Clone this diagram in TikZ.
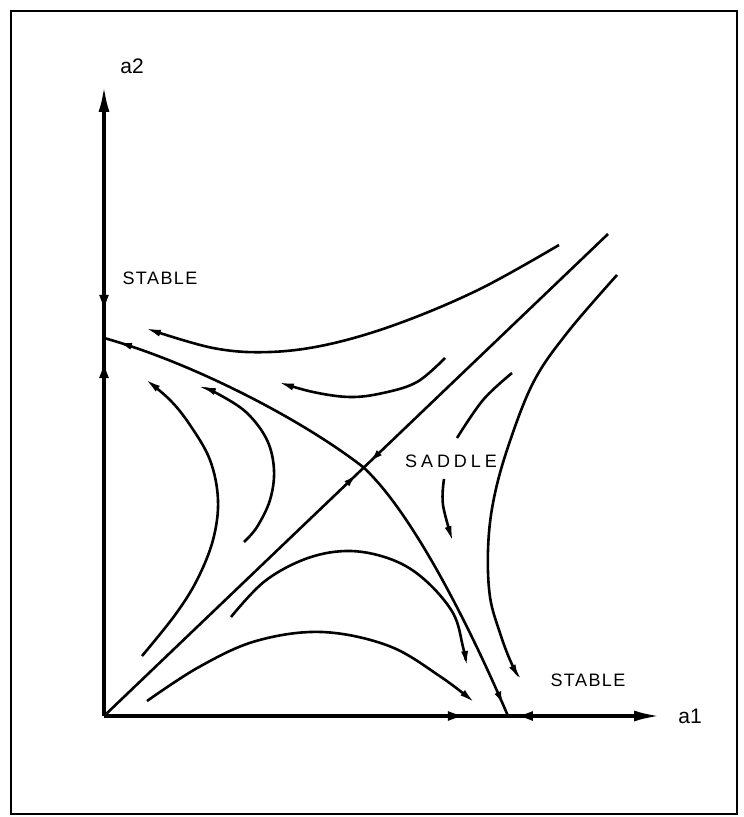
\documentclass[tikz,border=0pt]{standalone}
\usepackage{fontspec}
\setmainfont{Liberation Sans}
\usetikzlibrary{arrows.meta,decorations.markings,positioning}

\begin{document}
\begin{tikzpicture}[
    x=0.5pt, y=-0.5pt,
    frame/.style={draw=black, line width=1pt},
    axis/.style={line width=1.7pt, -{Latex[length=13pt, width=5.5pt]}},
    flow/.style={line width=1.3pt, -{Latex[length=8pt, width=3.5pt]}},
    trail/.style={line width=1.3pt},
    tipfwd/.style={postaction={decorate, decoration={markings,
        mark=at position #1 with {\arrow{Latex[length=7pt, width=3.5pt]}}}}},
    tipback/.style={postaction={decorate, decoration={markings,
        mark=at position #1 with {\arrowreversed{Latex[length=7pt, width=3.5pt]}}}}},
    axisfwd/.style={postaction={decorate, decoration={markings,
        mark=at position #1 with {\arrow{Latex[length=9pt, width=5pt]}}}}},
    axisback/.style={postaction={decorate, decoration={markings,
        mark=at position #1 with {\arrowreversed{Latex[length=9pt, width=5pt]}}}}},
    statelabel/.style={font=\fontsize{9}{10}\selectfont, inner sep=0pt},
    axislabel/.style={font=\fontsize{10.5}{11}\selectfont, inner sep=0pt},
]
\useasboundingbox (0,0) rectangle (743,817);

% Frame
\draw[frame] (11,11) rectangle (737,814);

% Fixed points
\coordinate (O) at (104,716);
\coordinate (yend) at (104,86);
\coordinate (xend) at (660,716);
\coordinate (S1) at (104,338);
\coordinate (S2) at (508,716);
\coordinate (saddle) at (363,467);
\coordinate (diagend) at (608,234);

% Axes
\draw[axis, axisfwd=0.565, axisback=0.64] (O) -- (yend);
\draw[axis, axisfwd=0.651, axisback=0.739] (O) -- (xend);
\node[axislabel, above right=6pt and 8pt of yend] (a2) {a2};
\node[axislabel, right=9pt of xend] (a1) {a1};

% Separatrices
\draw[trail, tipfwd=0.502, tipback=0.526] (O) -- (diagend);
\draw[trail, tipback=0.025, tipfwd=0.98] (S1) .. controls (190,362) and (300,418) .. (saddle)
    .. controls (410,510) and (466,618) .. (S2);

% Upper flows
\draw[flow] plot[smooth, tension=0.6] coordinates {
    (559,245) (480,289) (400,323) (330,344) (270,352) (213,348) (145,328)};
\draw[flow] plot[smooth, tension=0.6] coordinates {
    (445,358) (417,382) (383,393) (350,397) (313,392) (278,382)};

% Left flows
\draw[flow] plot[smooth, tension=0.6] coordinates {
    (142,656) (175,615) (197,580) (213,540) (218,500) (210,460) (190,425) (170,400) (145,379)};
\draw[flow] plot[smooth, tension=0.6] coordinates {
    (244,542) (257,527) (270,500) (274,470) (267,440) (247,413) (220,395) (200,386)};

% Right flows
\draw[flow] plot[smooth, tension=0.6] coordinates {
    (617,275) (567,333) (533,383) (507,450) (493,503) (488,550) (490,597) (500,633) (510,660) (520,680)};
\draw[trail] plot[smooth, tension=0.6] coordinates {(512,373) (483,400) (457,438)};
\draw[flow] plot[smooth, tension=0.6] coordinates {(444,479) (443,505) (453,542)};

% Lower flows
\draw[flow] plot[smooth, tension=0.6] coordinates {
    (231,617) (265,581) (308,558) (351,551) (393,560) (425,580) (453,613) (463,647) (467,667)};
\draw[flow] plot[smooth, tension=0.6] coordinates {
    (147,701) (199,667) (256,641) (322,632) (389,646) (441,677) (475,703)};

% Labels
\node[statelabel] at (160,278) (stabletop) {\addfontfeatures{LetterSpace=8}STABLE};
\node[statelabel] at (588,680) (stablebot) {\addfontfeatures{LetterSpace=8}STABLE};
\node[statelabel] at (451,461) (saddlelabel) {\addfontfeatures{LetterSpace=22}SADDLE};

\end{tikzpicture}
\end{document}
